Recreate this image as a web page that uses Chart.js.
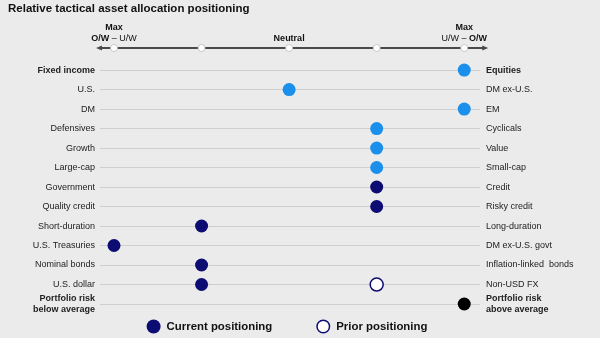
<!DOCTYPE html>
<html>
<head>
<meta charset="utf-8">
<script src="https://cdn.jsdelivr.net/npm/chart.js@4.4.1/dist/chart.umd.min.js"></script>
<style>
  html, body { margin: 0; padding: 0; background: #ebebeb; }
  canvas { display: block; }
</style>
</head>
<body>
<canvas id="posChart" width="600" height="338"></canvas>
<script>
// rows, top to bottom: left = underweight side, right = overweight side
var leftLabels = ["Fixed income", "U.S.", "DM", "Defensives", "Growth", "Large-cap",
  "Government", "Quality credit", "Short-duration", "U.S. Treasuries", "Nominal bonds",
  "U.S. dollar", ["Portfolio risk", "below average"]];
var rightLabels = ["Equities", "DM ex-U.S.", "EM", "Cyclicals", "Value", "Small-cap",
  "Credit", "Risky credit", "Long-duration", "DM ex-U.S. govt", "Inflation-linked  bonds",
  "Non-USD FX", ["Portfolio risk", "above average"]];
var boldRows = [0, 12];

// -2 = max toward left side, 0 = neutral, +2 = max toward right side
var current = [2, 0, 2, 1, 1, 1, 1, 1, -1, -2, -1, -1, 2];
var prior = [null, null, null, null, null, null, null, null, null, null, null, 1, null];
var rowGroup = ["equity", "equity", "equity", "equity", "equity", "equity",
  "bond", "bond", "bond", "bond", "bond", "bond", "risk"];

var axisTicks = [-2, -1, 0, 1, 2];
var legendLabels = ["Current positioning", "Prior positioning"];

var navy = "#0c0c72";
var blue = "#1a8fec";
var font = "'Liberation Sans', Arial, sans-serif";

function pointsFor(group) {
  var pts = [];
  current.forEach(function (v, i) {
    if (rowGroup[i] === group) pts.push({ x: v, y: i });
  });
  return pts;
}
var priorPts = [];
prior.forEach(function (v, i) {
  if (v !== null) priorPts.push({ x: v, y: i });
});

// arrowed scale line across the top with its tick circles and captions
var topAxis = {
  id: "topAxis",
  afterDraw: function (chart) {
    var ctx = chart.ctx;
    var xs = chart.scales.x;
    var y = chart.scales.y.getPixelForValue(-1.13);
    var x0 = xs.getPixelForValue(-2) - 18;
    var x1 = xs.getPixelForValue(2) + 24;
    ctx.save();
    ctx.strokeStyle = "#4a4a4a";
    ctx.fillStyle = "#4a4a4a";
    ctx.lineWidth = 2;
    ctx.beginPath();
    ctx.moveTo(x0 + 4, y);
    ctx.lineTo(x1 - 4, y);
    ctx.stroke();
    // arrow heads
    ctx.beginPath();
    ctx.moveTo(x0, y); ctx.lineTo(x0 + 6, y - 2.5); ctx.lineTo(x0 + 6, y + 2.5); ctx.closePath();
    ctx.moveTo(x1, y); ctx.lineTo(x1 - 6, y - 2.5); ctx.lineTo(x1 - 6, y + 2.5); ctx.closePath();
    ctx.fill();
    axisTicks.forEach(function (t) {
      var px = xs.getPixelForValue(t);
      ctx.beginPath();
      ctx.arc(px, y, 3.5, 0, Math.PI * 2);
      ctx.fillStyle = "#ffffff";
      ctx.fill();
      ctx.lineWidth = 0.8;
      ctx.strokeStyle = "#bdbdbd";
      ctx.stroke();
    });

    ctx.fillStyle = "#111";
    ctx.textBaseline = "middle";
    ctx.textAlign = "center";
    var bold = "bold 9px " + font;
    var norm = "9px " + font;
    var lx = xs.getPixelForValue(-2), rx = xs.getPixelForValue(2);
    ctx.font = bold;
    ctx.fillText("Max", lx, y - 20);
    ctx.fillText("Max", rx, y - 20);
    ctx.fillText("Neutral", xs.getPixelForValue(0), y - 9);

    // mixed-weight captions under "Max"
    function caption(parts, cx) {
      var w = 0;
      parts.forEach(function (p) { ctx.font = p[1] ? bold : norm; w += ctx.measureText(p[0]).width; });
      var x = cx - w / 2;
      ctx.textAlign = "left";
      parts.forEach(function (p) {
        ctx.font = p[1] ? bold : norm;
        ctx.fillText(p[0], x, y - 9);
        x += ctx.measureText(p[0]).width;
      });
    }
    caption([["O/W", true], [" \u2013 U/W", false]], lx);
    caption([["U/W \u2013 ", false], ["O/W", true]], rx);
    ctx.restore();
  }
};

// legend row under the plot: filled navy dot and hollow dot
var dotLegend = {
  id: "dotLegend",
  afterDraw: function (chart) {
    var ctx = chart.ctx;
    var area = chart.chartArea;
    var y = 326.5, r = 7, gap = 6, between = 44;
    ctx.save();
    ctx.font = "bold 11.4px " + font;
    ctx.textBaseline = "middle";
    ctx.textAlign = "left";
    var widths = legendLabels.map(function (t) { return 2 * r + gap + ctx.measureText(t).width; });
    var total = widths[0] + between + widths[1];
    var x = (area.left + area.right) / 2 - 3 - total / 2;
    legendLabels.forEach(function (t, i) {
      ctx.beginPath();
      ctx.arc(x + r, y, i === 0 ? r : r - 0.75, 0, Math.PI * 2);
      if (i === 0) {
        ctx.fillStyle = navy;
        ctx.fill();
      } else {
        ctx.fillStyle = "#ffffff";
        ctx.fill();
        ctx.lineWidth = 1.5;
        ctx.strokeStyle = navy;
        ctx.stroke();
      }
      ctx.fillStyle = "#111";
      ctx.fillText(t, x + 2 * r + gap, y + 0.5);
      x += widths[i] + between;
    });
    ctx.restore();
  }
};

var tickFont = function (c) {
  return {
    family: font,
    size: 9,
    weight: boldRows.indexOf(c.index) >= 0 ? "bold" : "normal",
    lineHeight: 1.3
  };
};
var rowTicks = function (s) {
  s.ticks = leftLabels.map(function (_, i) { return { value: i }; });
};

var ctx = document.getElementById("posChart").getContext("2d");
var posChart = new Chart(ctx, {
  type: "scatter",
  data: {
    datasets: [
      { label: "Equity positioning", data: pointsFor("equity"), backgroundColor: blue, borderColor: blue },
      { label: "Current positioning", data: pointsFor("bond"), backgroundColor: navy, borderColor: navy },
      { label: "Prior positioning", data: priorPts, backgroundColor: "#ffffff", borderColor: navy, borderWidth: 1.5 },
      { label: "Portfolio risk", data: pointsFor("risk"), backgroundColor: "#000000", borderColor: "#000000" }
    ]
  },
  options: {
    responsive: false,
    animation: false,
    events: [],
    devicePixelRatio: 1,
    elements: { point: { radius: 6.5, borderWidth: 0, pointStyle: "circle" } },
    layout: { padding: { top: 0, left: 8, right: 0, bottom: 24.25 } },
    scales: {
      x: { type: "linear", min: -2.16, max: 2.18, display: false },
      y: {
        position: "left",
        reverse: true,
        min: -1.5,
        max: 12.5,
        afterBuildTicks: rowTicks,
        afterFit: function (s) { s.width = 92; },
        grid: { color: "#cfcfcf", lineWidth: 1, drawTicks: false },
        border: { display: false },
        ticks: {
          autoSkip: false,
          padding: 5,
          color: "#222",
          font: tickFont,
          callback: function (v) { return leftLabels[v]; }
        }
      },
      y2: {
        position: "right",
        reverse: true,
        min: -1.5,
        max: 12.5,
        afterBuildTicks: rowTicks,
        afterFit: function (s) { s.width = 120; },
        grid: { display: false, drawTicks: false },
        border: { display: false },
        ticks: {
          autoSkip: false,
          padding: 6,
          color: "#222",
          font: tickFont,
          callback: function (v) { return rightLabels[v]; }
        }
      }
    },
    plugins: {
      title: {
        display: true,
        text: "Relative tactical asset allocation positioning",
        align: "start",
        color: "#111",
        font: { family: font, size: 11.5, weight: "bold", lineHeight: 1.2 },
        padding: { top: 2, bottom: 25 }
      },
      legend: { display: false },
      tooltip: { enabled: false }
    }
  },
  plugins: [topAxis, dotLegend]
});
</script>
</body>
</html>
